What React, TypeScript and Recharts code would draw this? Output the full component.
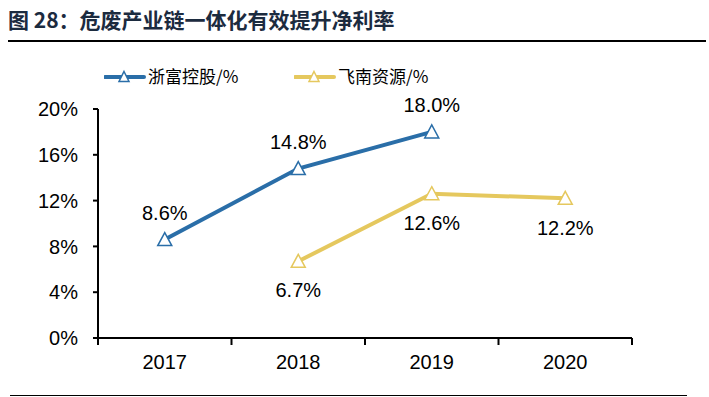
import { LineChart, Line, XAxis, YAxis, LabelList } from "recharts";

const years = ["2017", "2018", "2019", "2020"];
const zheFu = [8.6, 14.8, 18.0, null];
const feiNan = [null, 6.7, 12.6, 12.2];
const yTicks = [0, 4, 8, 12, 16, 20];

const BLUE = "#2a6ea8";
const GOLD = "#e5c85e";
const CJK = "'Noto Sans CJK SC', 'Liberation Sans', sans-serif";
const ARIAL = "'Liberation Sans', Arial, sans-serif";

// x = Index + 0.5, damit Achsenstriche zwischen den Kategorien liegen
const data = years.map((y, i) => ({ x: i + 0.5, year: y, zf: zheFu[i], fn: feiNan[i] }));
const xTicks = [0, 0.5, 1, 1.5, 2, 2.5, 3, 3.5, 4];

function Tri({ cx, cy, color, w = 14, h = 12 }: { cx?: number; cy?: number; color: string; w?: number; h?: number }) {
  if (cx == null || cy == null) return null;
  return (
    <path
      d={`M${cx},${cy - h / 2 - 1} L${cx + w / 2},${cy + h / 2} L${cx - w / 2},${cy + h / 2} Z`}
      fill="#fff"
      stroke={color}
      strokeWidth={1.5}
    />
  );
}

function XTick(props: any) {
  const { x, y, payload } = props;
  const v = payload.value as number;
  if (Number.isInteger(v)) {
    return <line x1={x} x2={x} y1={y} y2={y + 7} stroke="#000" strokeWidth={2} />;
  }
  return (
    <text x={x} y={y + 31} textAnchor="middle" fontSize={20} fontFamily={ARIAL} fill="#000">
      {years[Math.floor(v)]}
    </text>
  );
}

function LegendItem({ color, label, left }: { color: string; label: string; left: number }) {
  return (
    <div style={{ position: "absolute", left, top: 63, display: "flex", alignItems: "center" }}>
      <svg width={42} height={20}>
        <line x1={1} x2={40} y1={11} y2={11} stroke={color} strokeWidth={4} strokeLinecap="round" />
        <Tri cx={20} cy={11} color={color} w={10} h={9} />
      </svg>
      <span style={{ fontFamily: CJK, fontSize: 17, color: "#000", marginLeft: 2 }}>{label}</span>
    </div>
  );
}

const fmt = (v: any) => (v == null ? "" : `${Number(v).toFixed(1)}%`);

export default function App() {
  return (
    <div style={{ position: "absolute", left: 0, top: 0, width: 709, height: 397, background: "#fff", overflow: "hidden" }}>
      <div style={{ position: "absolute", left: 8, top: 4, fontFamily: CJK, fontWeight: 700, fontSize: 21, color: "#1c2b3f", whiteSpace: "pre" }}>
        {"图 28：危废产业链一体化有效提升净利率"}
      </div>
      <div style={{ position: "absolute", left: 8, top: 40, width: 698, height: 2, background: "#000" }} />

      <LegendItem color={BLUE} label="浙富控股/%" left={104} />
      <LegendItem color={GOLD} label="飞南资源/%" left={294} />

      <div style={{ position: "absolute", left: 0, top: 0 }}>
        <LineChart width={709} height={397} data={data} margin={{ top: 109, right: 77, bottom: 0, left: 28 }}>
          <XAxis
            dataKey="x"
            type="number"
            domain={[0, 4]}
            ticks={xTicks}
            interval={0}
            tickLine={false}
            tickSize={0}
            tickMargin={0}
            height={59}
            axisLine={{ stroke: "#000", strokeWidth: 2 }}
            tick={<XTick />}
          />
          <YAxis
            type="number"
            domain={[0, 20]}
            ticks={yTicks}
            interval={0}
            width={70}
            tickSize={5}
            tickMargin={15}
            tickFormatter={(v) => `${v}%`}
            axisLine={{ stroke: "#000", strokeWidth: 2 }}
            tickLine={{ stroke: "#000", strokeWidth: 2 }}
            tick={{ fontSize: 20, fontFamily: ARIAL, fill: "#000" }}
          />
          <Line
            dataKey="zf"
            stroke={BLUE}
            strokeWidth={4}
            isAnimationActive={false}
            dot={(p: any) => <Tri key={`zf${p.index}`} cx={p.cx} cy={p.cy} color={BLUE} />}
            activeDot={false}
          >
            <LabelList dataKey="zf" position="top" offset={20} formatter={fmt} style={{ fontSize: 20, fontFamily: ARIAL, fill: "#000" }} />
          </Line>
          <Line
            dataKey="fn"
            stroke={GOLD}
            strokeWidth={4}
            isAnimationActive={false}
            dot={(p: any) => <Tri key={`fn${p.index}`} cx={p.cx} cy={p.cy} color={GOLD} />}
            activeDot={false}
          >
            <LabelList dataKey="fn" position="bottom" offset={22} formatter={fmt} style={{ fontSize: 20, fontFamily: ARIAL, fill: "#000" }} />
          </Line>
        </LineChart>
      </div>

      <div style={{ position: "absolute", left: 10, top: 395, width: 677, height: 1, background: "#000" }} />
    </div>
  );
}
